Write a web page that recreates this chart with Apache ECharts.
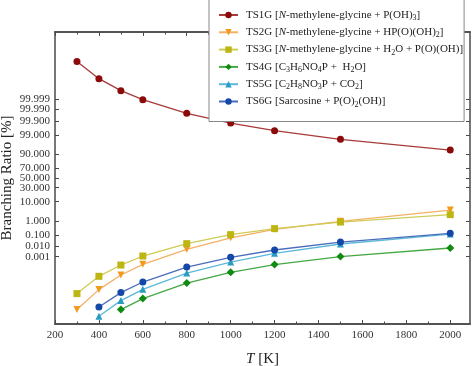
<!DOCTYPE html>
<html>
<head>
<meta charset="utf-8">
<script src="https://cdn.jsdelivr.net/npm/echarts@6/dist/echarts.min.js"></script>
<style>html,body{margin:0;padding:0;background:#fff}#c{width:474px;height:366px}</style>
</head>
<body>
<div id="c"></div>
<script>
// ---- data (branching ratio in %) ----
const temps = [300, 400, 500, 600, 800, 1000, 1200, 1500, 2000];
const ts1g = [99.9999999874, 99.99999643, 99.9998915, 99.99892, 99.9773, 99.856, 99.489, 98.20, 93.52];
const ts2g = [4.71e-11, 7.03e-8, 7.09e-6, 1.42e-4, 5.48e-3, 0.0585, 0.268, 0.936, 4.11];
const ts3g = [1.80e-8, 4.83e-6, 1.17e-4, 1.16e-3, 0.0185, 0.106, 0.301, 0.845, 2.34];
const ts4g = [null, null, 4.71e-11, 3.02e-9, 6.10e-7, 1.56e-5, 1.31e-4, 1.0e-3, 0.0073];
const ts5g = [null, 3.12e-12, 1.46e-9, 7.80e-8, 1.27e-5, 2.58e-4, 2.2e-3, 0.0171, 0.118];
const ts6g = [null, 1.29e-10, 2.52e-8, 8.37e-7, 6.86e-5, 8.44e-4, 4.69e-3, 0.0257, 0.134];
const seriesNames = ['TS1G', 'TS2G', 'TS3G', 'TS4G', 'TS5G', 'TS6G'];
const legendLabels = [
  'TS1G [{i|N}-methylene-glycine + P(OH){s|3}]',
  'TS2G [{i|N}-methylene-glycine + HP(O)(OH){s|2}]',
  'TS3G [{i|N}-methylene-glycine + H{s|2}O + P(O)(OH)]',
  'TS4G [C{s|3}H{s|6}NO{s|4}P +  H{s|2}O]',
  'TS5G [C{s|2}H{s|8}NO{s|3}P + CO{s|2}]',
  'TS6G [Sarcosine + P(O){s|2}(OH)]'
];
const yTickPct = [0.001, 0.01, 0.1, 1, 10, 30, 50, 70, 90, 99, 99.9, 99.99, 99.999];
const yTickLabels = ['0.001', '0.010', '0.100', '1.000', '10.000', '30.000', '50.000', '70.000', '90.000', '99.000', '99.900', '99.990', '99.999'];
const xMajor = [200, 400, 600, 800, 1000, 1200, 1400, 1600, 1800, 2000];
const xMinor = [300, 500, 700, 900, 1100, 1300, 1500, 1700, 1900];

// ---- probit (normal probability) scale transform ----
function invNormLow(p) { // p in (0,0.5]
  const a = [-3.969683028665376e+01, 2.209460984245205e+02, -2.759285104469687e+02, 1.383577518672690e+02, -3.066479806614716e+01, 2.506628277459239e+00];
  const b = [-5.447609879822406e+01, 1.615858368580409e+02, -1.556989798598866e+02, 6.680131188771972e+01, -1.328068155288572e+01];
  const c = [-7.784894002430293e-03, -3.223964580411365e-01, -2.400758277161838e+00, -2.549732539343734e+00, 4.374664141464968e+00, 2.938163982698783e+00];
  const d = [7.784695709041462e-03, 3.224671290700398e-01, 2.445134137142996e+00, 3.754408661907416e+00];
  if (p < 0.02425) {
    const q = Math.sqrt(-2 * Math.log(p));
    return (((((c[0]*q+c[1])*q+c[2])*q+c[3])*q+c[4])*q+c[5]) / ((((d[0]*q+d[1])*q+d[2])*q+d[3])*q+1);
  }
  const q = p - 0.5, r = q*q;
  return (((((a[0]*r+a[1])*r+a[2])*r+a[3])*r+a[4])*r+a[5])*q / (((((b[0]*r+b[1])*r+b[2])*r+b[3])*r+b[4])*r+1);
}
function probitPct(pct) {
  if (pct <= 50) return invNormLow(pct / 100);
  return -invNormLow((100 - pct) / 100);
}
const yTickZ = yTickPct.map(probitPct);
const yTickZEven = yTickZ.filter((v, i) => i % 2 === 0);
const yTickZOdd = yTickZ.filter((v, i) => i % 2 === 1);
const Y_MIN = -7.92, Y_MAX = 7.92;

const serif = 'Liberation Serif';
const markerColors = ['#8b0a0a', '#f29a1e', '#bdb512', '#108a10', '#2a9cc2', '#1448a8'];
const lineColors = ['#a83a3a', '#f4b064', '#cfcc55', '#45a845', '#5cb8d8', '#4a6cbc'];
const symbols = ['circle', 'triangle', 'rect', 'diamond', 'triangle', 'circle'];
const rotates = [0, 180, 0, 0, 0, 0];
const sizes = [7, 7, 7, 8, 7, 7];
const allData = [ts1g, ts2g, ts3g, ts4g, ts5g, ts6g];

const series = allData.map((arr, k) => ({
  name: seriesNames[k],
  type: 'line',
  xAxisIndex: 0,
  yAxisIndex: 0,
  symbol: symbols[k],
  symbolRotate: rotates[k],
  symbolSize: sizes[k],
  showAllSymbol: true,
  connectNulls: false,
  itemStyle: { color: markerColors[k] },
  lineStyle: { color: lineColors[k], width: 1.3 },
  emphasis: { disabled: true },
  data: temps.map((t, i) => arr[i] == null ? null : [t, probitPct(arr[i])]).filter(v => v)
}));

const axisColor = '#4a4a4a';
function xAx(pos, ticks, len, labels, withName) {
  const ax = {
    type: 'value', position: pos, min: 200, max: 2090,
    axisLine: { show: true, onZero: false, lineStyle: { color: axisColor, width: 1.5 } },
    axisTick: { show: true, inside: true, length: len, customValues: ticks, lineStyle: { color: axisColor, width: 1 } },
    axisLabel: labels ? { show: true, customValues: ticks, interval: 0, showMinLabel: true, showMaxLabel: true,
      fontFamily: serif, fontSize: 11, color: '#333', margin: 6,
      formatter: function (v) { return String(Math.round(v)); } } : { show: false },
    splitLine: { show: false }
  };
  if (withName) {
    ax.name = '{i|T} [K]';
    ax.nameLocation = 'middle';
    ax.nameGap = 28;
    ax.nameMoveOverlap = false;
    ax.nameTextStyle = { fontFamily: serif, fontSize: 15, color: '#222',
      rich: { i: { fontFamily: serif, fontSize: 15, fontStyle: 'italic', color: '#222' } } };
  }
  return ax;
}
function labelFmt(v) {
  let best = 0;
  for (let i = 0; i < yTickZ.length; i++) if (Math.abs(yTickZ[i] - v) < Math.abs(yTickZ[best] - v)) best = i;
  return yTickLabels[best];
}
function yAx(pos, labelVals, withLine, withName) {
  const ax = {
    type: 'value', position: pos, min: Y_MIN, max: Y_MAX,
    axisLine: { show: withLine, onZero: false, lineStyle: { color: axisColor, width: 1.5 } },
    axisTick: { show: withLine, inside: true, length: 4, customValues: yTickZ, lineStyle: { color: axisColor, width: 1 } },
    axisLabel: labelVals ? {
      show: true, customValues: labelVals, interval: 0, showMinLabel: true, showMaxLabel: true, hideOverlap: false,
      fontFamily: serif, fontSize: 11, color: '#333', margin: 5,
      formatter: labelFmt
    } : { show: false },
    splitLine: { show: false }
  };
  if (withName) {
    ax.name = 'Branching Ratio [%]';
    ax.nameLocation = 'middle';
    ax.nameGap = 40;
    ax.nameMoveOverlap = false;
    ax.nameTextStyle = { fontFamily: serif, fontSize: 15, color: '#222' };
  }
  return ax;
}

const chart = echarts.init(document.getElementById('c'), null, { renderer: 'canvas' });
chart.setOption({
  animation: false,
  backgroundColor: '#fff',
  grid: { left: 55, right: 4, top: 32, bottom: 42, containLabel: false, outerBoundsMode: 'none' },
  xAxis: [
    xAx('bottom', xMajor, 4, true, true),
    xAx('bottom', xMinor, 2.5, false, false),
    xAx('top', xMajor, 4, false, false),
    xAx('top', xMinor, 2.5, false, false)
  ],
  yAxis: [
    yAx('left', yTickZEven, true, true),
    yAx('right', null, true, false),
    yAx('left', yTickZOdd, false, false)
  ],
  legend: {
    orient: 'vertical',
    left: 209,
    top: -1,
    padding: [9, 1, 13, 9],
    itemGap: 3.3,
    itemWidth: 19,
    itemHeight: 8,
    backgroundColor: '#fff',
    borderColor: '#888',
    borderWidth: 1,
    data: seriesNames,
    formatter: function (name) { return legendLabels[seriesNames.indexOf(name)]; },
    textStyle: {
      fontFamily: serif, fontSize: 11, color: '#222', lineHeight: 14, padding: [0, 0, 0, 3],
      rich: {
        i: { fontFamily: serif, fontSize: 11, fontStyle: 'italic', color: '#222', lineHeight: 14 },
        s: { fontFamily: serif, fontSize: 8, color: '#222', lineHeight: 14, padding: [6, 0, 0, 0] }
      }
    }
  },
  series: series
});
</script>
</body>
</html>
